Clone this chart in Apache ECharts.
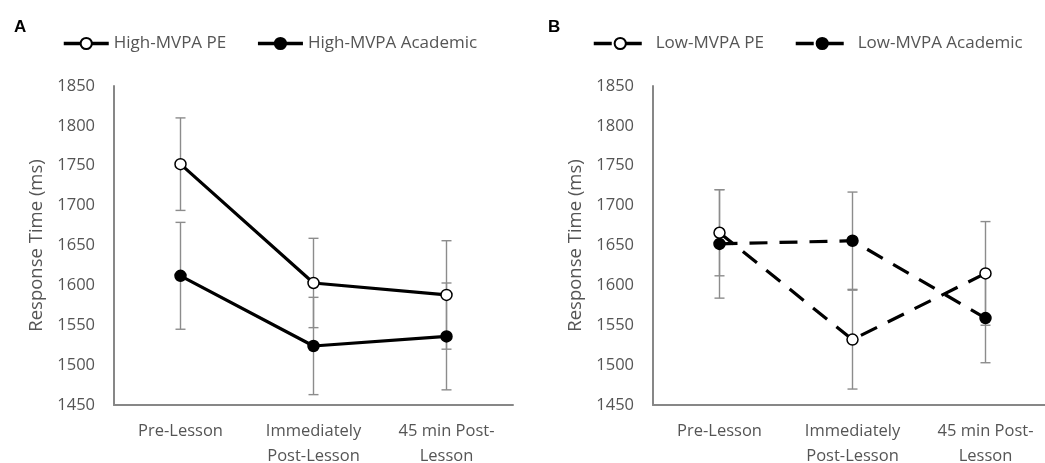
<!DOCTYPE html>
<html><head><meta charset="utf-8">
<script src="https://cdn.jsdelivr.net/npm/echarts@6/dist/echarts.min.js"></script>
<style>html,body{margin:0;padding:0;background:#fff}#c{width:1045px;height:463px}</style>
</head><body><div id="c"></div>
<script>
const categories = ['Pre-Lesson', 'Immediately\nPost-Lesson', '45 min Post-\nLesson'];
const yTicks = [1450, 1500, 1550, 1600, 1650, 1700, 1750, 1800, 1850];

const highPE = [1752, 1603, 1588];
const highPEErr = [58, 56, 68];
const highAcad = [1612, 1524, 1536];
const highAcadErr = [67, 61, 67];

const lowPE = [1666, 1532, 1615];
const lowPEErr = [54, 62, 65];
const lowAcad = [1652, 1656, 1559];
const lowAcadErr = [68, 61, 56];

const FONT = 'Open Sans';
const TXT = '#555555';
const AX = '#878787';

function errSeries(idx, means, errs) {
  return {
    type: 'custom', xAxisIndex: idx, yAxisIndex: idx, z: 1, silent: true,
    encode: { x: 0, y: [1, 2] },
    data: means.map((m, i) => [i, m - errs[i], m + errs[i]]),
    renderItem(params, api) {
      const lo = api.coord([api.value(0), api.value(1)]);
      const hi = api.coord([api.value(0), api.value(2)]);
      const w = 5;
      const st = { stroke: '#8c8c8c', lineWidth: 1.4 };
      return { type: 'group', children: [
        { type: 'line', shape: { x1: lo[0], y1: lo[1], x2: hi[0], y2: hi[1] }, style: st },
        { type: 'line', shape: { x1: lo[0] - w, y1: lo[1], x2: lo[0] + w, y2: lo[1] }, style: st },
        { type: 'line', shape: { x1: hi[0] - w, y1: hi[1], x2: hi[0] + w, y2: hi[1] }, style: st }
      ]};
    }
  };
}

function lineSeries(idx, name, data, open, dashed) {
  return {
    type: 'line', name, xAxisIndex: idx, yAxisIndex: idx, data, z: 3,
    symbol: 'circle', symbolSize: 11,
    lineStyle: { color: '#000', width: 3.2, type: dashed ? [18, 12] : 'solid' },
    itemStyle: { color: open ? '#fff' : '#000', borderColor: '#000', borderWidth: 1.5 },
    animation: false
  };
}

function xAx(idx) {
  return {
    type: 'category', gridIndex: idx, data: categories, boundaryGap: true,
    axisLine: { lineStyle: { color: AX, width: 2 } },
    axisTick: { show: false },
    axisLabel: { fontFamily: FONT, fontSize: 16.5, color: TXT, margin: 14, lineHeight: 25, interval: 0 }
  };
}
function yAx(idx) {
  return {
    type: 'value', gridIndex: idx, min: yTicks[0], max: yTicks[yTicks.length - 1], interval: 50,
    axisLine: { show: true, lineStyle: { color: AX, width: 2 } },
    axisTick: { show: false },
    splitLine: { show: false },
    axisLabel: { fontFamily: FONT, fontSize: 16.5, color: TXT, margin: 19, formatter: v => String(v) },
    name: 'Response Time (ms)', nameLocation: 'middle', nameGap: 68,
    nameTextStyle: { fontFamily: FONT, fontSize: 18.5, color: TXT }
  };
}

const legendText = { fontFamily: FONT, fontSize: 17, color: TXT };
const chart = echarts.init(document.getElementById('c'));
chart.setOption({
  animation: false,
  title: [
    { text: 'A', left: 9, top: 14, textStyle: { fontFamily: 'Liberation Sans', fontWeight: 'bold', fontSize: 17, color: '#000' } },
    { text: 'B', left: 543, top: 14, textStyle: { fontFamily: 'Liberation Sans', fontWeight: 'bold', fontSize: 17, color: '#000' } }
  ],
  legend: [
    { data: ['High-MVPA PE', 'High-MVPA Academic'], left: 62, top: 35, padding: 0, itemWidth: 45, itemHeight: 14, itemGap: 30,
      lineStyle: { width: 3.5 }, textStyle: legendText },
    { data: ['Low-MVPA PE', 'Low-MVPA Academic'], left: 592, top: 35, padding: 0, itemWidth: 53, itemHeight: 14, itemGap: 30,
      lineStyle: { width: 3.5 }, textStyle: Object.assign({ padding: [0, 0, 0, 4] }, legendText) }
  ],
  grid: [
    { left: 114, top: 86, width: 399, height: 319, outerBoundsMode: 'none', containLabel: false },
    { left: 653, top: 86, width: 399, height: 319, outerBoundsMode: 'none', containLabel: false }
  ],
  xAxis: [xAx(0), xAx(1)],
  yAxis: [yAx(0), yAx(1)],
  series: [
    errSeries(0, highPE, highPEErr),
    errSeries(0, highAcad, highAcadErr),
    errSeries(1, lowPE, lowPEErr),
    errSeries(1, lowAcad, lowAcadErr),
    lineSeries(0, 'High-MVPA PE', highPE, true, false),
    lineSeries(0, 'High-MVPA Academic', highAcad, false, false),
    lineSeries(1, 'Low-MVPA PE', lowPE, true, true),
    lineSeries(1, 'Low-MVPA Academic', lowAcad, false, true)
  ]
});
</script></body></html>
